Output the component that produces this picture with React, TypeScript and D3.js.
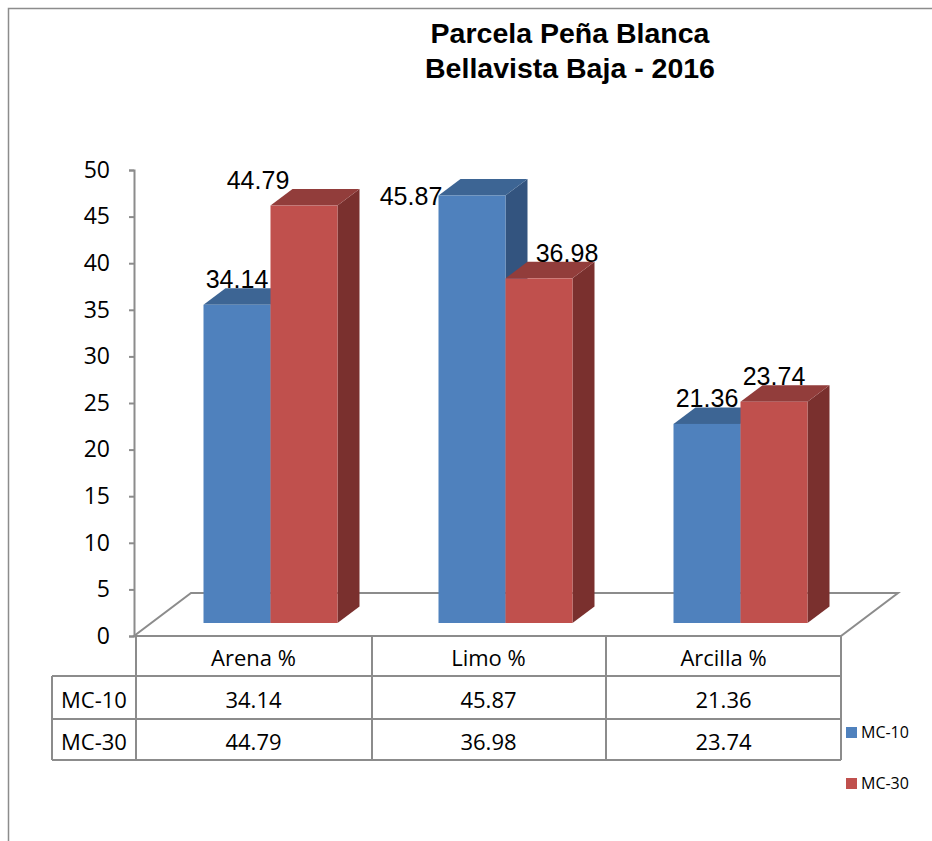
import React, { useEffect, useRef } from 'react';
import * as d3 from 'd3';

const categories = ['Arena %', 'Limo %', 'Arcilla %'];
const seriesNames = ['MC-10', 'MC-30'];
const mc10 = [34.14, 45.87, 21.36];
const mc30 = [44.79, 36.98, 23.74];
const yTicks = [0, 5, 10, 15, 20, 25, 30, 35, 40, 45, 50];
const titleLines = ['Parcela Peña Blanca', 'Bellavista Baja - 2016'];

// label tweaks (the labels in the original were dragged by hand)
const labelNudge = [
  [[0, 0], [-46, 0]],
  [[-61, 26], [28, 0]],
  [[0, 0], [0, 0]],
];

const colors = [
  { front: '#4F81BD', top: '#3D6594', side: '#33547F' },
  { front: '#C0504D', top: '#923D3B', side: '#7A302E' },
];

const App: React.FC = () => {
  const svgRef = useRef<SVGSVGElement>(null);

  useEffect(() => {
    if (!svgRef.current) return;
    const svg = d3.select(svgRef.current);
    svg.selectAll('*').remove();

    const series = [mc10, mc30];
    const grey = '#8C8C8C';

    const y = d3.scaleLinear().domain([0, 50]).range([636, 170]);
    const x = d3.scaleBand().domain(categories).range([136, 841]).padding(0);

    // floor depth and bar placement inside it
    const floor = { dx: 57, dy: -43 };
    const barOff = { dx: 17, dy: -13 };
    const depth = { dx: 22, dy: -16.5 };
    const barW = 67;

    // outer frame
    svg.append('rect')
      .attr('x', 8.5).attr('y', 8.5)
      .attr('width', 1000).attr('height', 1000)
      .attr('fill', 'white')
      .attr('stroke', grey).attr('stroke-width', 1.5);

    // title
    const title = svg.append('text')
      .attr('text-anchor', 'middle')
      .style('font-family', '"Liberation Sans", Arial, sans-serif')
      .style('font-weight', 'bold')
      .style('font-size', '28.5px');
    titleLines.forEach((t, i) => {
      title.append('tspan').attr('x', 570).attr('y', 43 + i * 35).text(t);
    });

    // floor
    const x0 = 134, x1 = 841, y0 = y(0);
    svg.append('path')
      .attr('d', `M${x0},${y0}L${x1},${y0}L${x1 + floor.dx},${y0 + floor.dy}L${x0 + floor.dx},${y0 + floor.dy}Z`)
      .attr('fill', 'white')
      .attr('stroke', grey).attr('stroke-width', 2);

    // axis
    const axis = svg.append('g')
      .attr('transform', `translate(${x0},0)`)
      .call(d3.axisLeft(y).tickValues(yTicks).tickSize(5).tickSizeOuter(5).tickPadding(19));
    axis.selectAll('path, line').attr('stroke', grey).attr('stroke-width', 2);
    axis.selectAll('text')
      .attr('fill', '#000')
      .style('font-family', '"Open Sans", sans-serif')
      .style('font-size', '23px');

    // bars
    const bars = svg.append('g');
    categories.forEach((c, ci) => {
      const cx = (x(c) || 0) + x.bandwidth() / 2 + barOff.dx;
      series.forEach((vals, si) => {
        const v = vals[ci];
        const left = cx - barW + si * barW;
        const right = left + barW;
        const base = y(0) + barOff.dy;
        const top = y(v) + barOff.dy;
        const col = colors[si];
        bars.append('path')
          .attr('d', `M${right},${top}L${right + depth.dx},${top + depth.dy}L${right + depth.dx},${base + depth.dy}L${right},${base}Z`)
          .attr('fill', col.side);
        bars.append('path')
          .attr('d', `M${left},${top}L${left + depth.dx},${top + depth.dy}L${right + depth.dx},${top + depth.dy}L${right},${top}Z`)
          .attr('fill', col.top);
        bars.append('rect')
          .attr('x', left).attr('y', top)
          .attr('width', barW).attr('height', base - top)
          .attr('fill', col.front);
      });
    });

    // data labels
    categories.forEach((c, ci) => {
      const cx = (x(c) || 0) + x.bandwidth() / 2 + barOff.dx;
      series.forEach((vals, si) => {
        const v = vals[ci];
        const mid = cx - barW / 2 + si * barW;
        const [nx, ny] = labelNudge[ci][si];
        svg.append('text')
          .attr('x', mid + nx)
          .attr('y', y(v) + barOff.dy + depth.dy + ny)
          .attr('text-anchor', 'middle')
          .style('font-family', '"Liberation Sans", Arial, sans-serif')
          .style('font-size', '25px')
          .text(v.toFixed(2));
      });
    });

    // data table
    const rowY = [636, 676, 719, 760];
    const table = svg.append('g');
    const line = (xa: number, ya: number, xb: number, yb: number) =>
      table.append('line')
        .attr('x1', xa).attr('y1', ya).attr('x2', xb).attr('y2', yb)
        .attr('stroke', grey).attr('stroke-width', 2);
    [136, 372, 606, 841].forEach(vx => line(vx, rowY[0], vx, rowY[3]));
    line(52, rowY[1], 52, rowY[3]);
    rowY.slice(1).forEach(hy => line(52, hy, 841, hy));

    const cellText = (tx: number, ty: number, t: string) =>
      table.append('text')
        .attr('x', tx).attr('y', ty)
        .attr('text-anchor', 'middle')
        .attr('dominant-baseline', 'central')
        .style('font-family', '"Open Sans", sans-serif')
        .style('font-size', '22px')
        .text(t);

    categories.forEach(c => {
      const cx = (x(c) || 0) + x.bandwidth() / 2;
      cellText(cx, (rowY[0] + rowY[1]) / 2 + 1, c);
    });
    series.forEach((vals, si) => {
      const cy = (rowY[si + 1] + rowY[si + 2]) / 2 + 1;
      cellText(94, cy, seriesNames[si]);
      vals.forEach((v, ci) => {
        const cx = (x(categories[ci]) || 0) + x.bandwidth() / 2;
        cellText(cx, cy, v.toFixed(2));
      });
    });

    // legend
    const legend = svg.append('g');
    seriesNames.forEach((n, i) => {
      const ly = 727 + i * 51;
      legend.append('rect')
        .attr('x', 846).attr('y', ly).attr('width', 11).attr('height', 11)
        .attr('fill', colors[i].front);
      legend.append('text')
        .attr('x', 861).attr('y', ly + 10.5)
        .style('font-family', '"Open Sans", sans-serif')
        .style('font-size', '16px')
        .text(n);
    });
  }, []);

  return (
    <svg
      ref={svgRef}
      width={932}
      height={841}
      style={{ position: 'absolute', left: 0, top: 0, background: 'white' }}
    />
  );
};

export default App;
